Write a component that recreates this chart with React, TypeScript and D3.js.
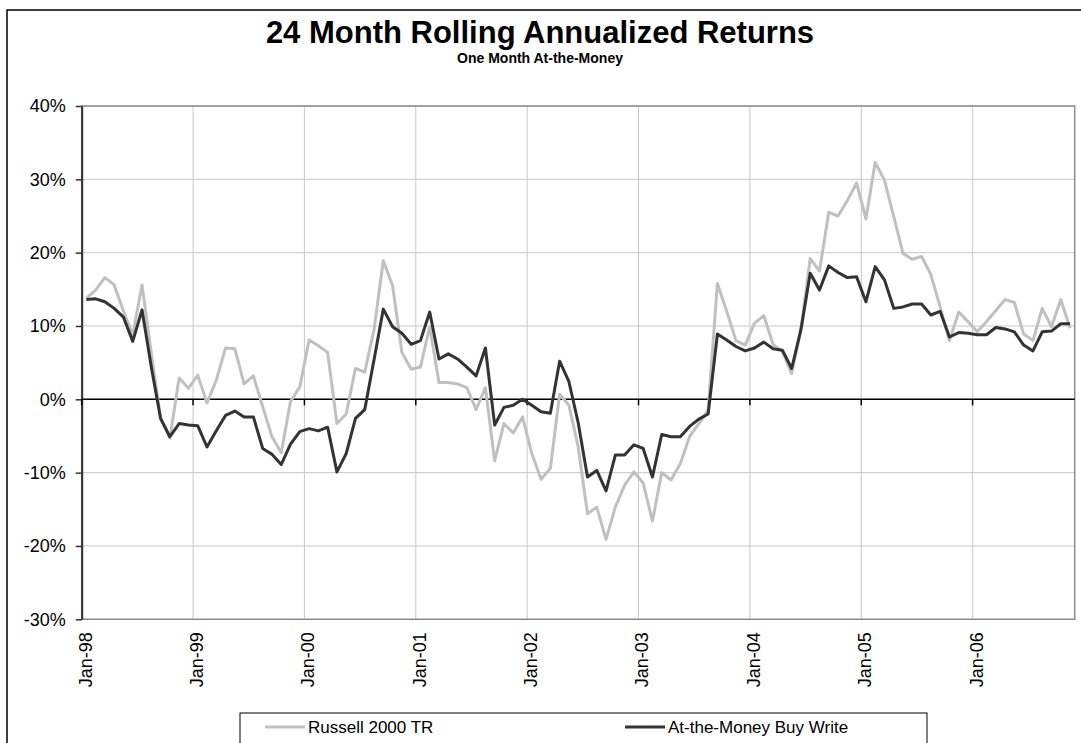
import * as React from 'react';
import * as d3 from 'd3';
import {Component} from 'react';

interface IChartProperties {
    margins: {
        top: number;
        bottom: number;
        left: number;
        right: number;
    }
    xMax: number;
    yMax: number;
}

const title = '24 Month Rolling Annualized Returns';
const subtitle = 'One Month At-the-Money';
const seriesNames = ['Russell 2000 TR', 'At-the-Money Buy Write'];
const seriesColors = ['#c0c0c0', '#333333'];

// monthly, Jan-98 .. Nov-06
const months = d3.timeMonth.range(new Date(1998, 0, 1), new Date(2006, 11, 1));

const russell = [
    13.8, 14.9, 16.6, 15.6, 12.0, 8.8, 15.6, 6.3, -2.6, -5.3, 2.9, 1.5,
    3.3, -0.5, 2.6, 7.0, 6.9, 2.1, 3.2, -1.0, -5.1, -7.3, -0.3, 1.7,
    8.1, 7.3, 6.4, -3.3, -2.0, 4.2, 3.7, 9.5, 18.9, 15.5, 6.4, 4.1,
    4.4, 9.9, 2.3, 2.3, 2.1, 1.6, -1.4, 1.6, -8.4, -3.3, -4.6, -2.4,
    -7.4, -10.9, -9.4, 0.7, -0.8, -6.5, -15.6, -14.7, -19.1, -14.7, -11.7, -9.9,
    -11.4, -16.6, -10.0, -11.0, -8.8, -5.1, -3.3, -1.5, 15.8, 12.0, 8.0, 7.4,
    10.4, 11.4, 7.5, 6.5, 3.5, 9.5, 19.2, 17.5, 25.5, 25.0, 27.1, 29.5,
    24.6, 32.3, 29.9, 24.9, 19.9, 19.1, 19.5, 17.0, 12.6, 8.0, 11.9, 10.6,
    9.2, 10.6, 12.1, 13.6, 13.2, 8.9, 8.0, 12.4, 9.9, 13.6, 9.7
];

const atmBuyWrite = [
    13.6, 13.7, 13.3, 12.4, 11.2, 7.9, 12.2, 4.4, -2.6, -5.1, -3.3, -3.5,
    -3.6, -6.5, -4.3, -2.2, -1.6, -2.4, -2.4, -6.7, -7.5, -8.9, -6.1, -4.4,
    -4.0, -4.3, -3.8, -9.9, -7.4, -2.6, -1.4, 5.4, 12.3, 9.9, 9.0, 7.5,
    8.0, 11.9, 5.5, 6.2, 5.5, 4.4, 3.2, 7.0, -3.5, -1.1, -0.8, 0.0,
    -0.8, -1.7, -1.9, 5.2, 2.4, -3.2, -10.6, -9.7, -12.5, -7.6, -7.6, -6.2,
    -6.7, -10.6, -4.8, -5.1, -5.1, -3.7, -2.7, -2.0, 8.9, 8.1, 7.2, 6.6,
    7.0, 7.8, 6.9, 6.7, 4.2, 9.5, 17.2, 14.9, 18.2, 17.3, 16.6, 16.7,
    13.3, 18.1, 16.3, 12.4, 12.6, 13.0, 13.0, 11.5, 12.0, 8.5, 9.1, 9.0,
    8.8, 8.8, 9.8, 9.6, 9.2, 7.4, 6.6, 9.2, 9.3, 10.3, 10.3
];

const yTicks = [-30, -20, -10, 0, 10, 20, 30, 40];

const FONT = '"Liberation Sans", Arial, sans-serif';

class Chart extends Component {
    private svgRef: any = React.createRef<SVGSVGElement>();
    private chartProperties: IChartProperties = {
        margins: {left: 81.7, right: 6.3, top: 106, bottom: 123.7},
        xMax: 1081,
        yMax: 743,
    };

    componentDidMount(): void {
        const svg = d3.select(this.svgRef.current);
        svg.selectAll('*').remove();
        const cp = this.chartProperties;
        const xScale = d3.scaleBand<number>()
            .domain(months.map((_, i) => i))
            .range([cp.margins.left, cp.xMax - cp.margins.right])
            .padding(0);
        const yScale = d3.scaleLinear()
            .domain([-30, 40])
            .range([cp.yMax - cp.margins.bottom, cp.margins.top]);

        appendFrame(svg, cp);
        appendTitles(svg);
        appendGrid(svg, xScale, yScale, cp);
        appendYAxis(svg, yScale, cp);
        appendXAxis(svg, xScale, yScale, cp);
        appendLine(svg, xScale, yScale, russell, seriesColors[0]);
        appendLine(svg, xScale, yScale, atmBuyWrite, seriesColors[1]);
        appendLegend(svg);
    }

    render() {
        return (
            <svg ref={this.svgRef} xmlns="http://www.w3.org/2000/svg" width="1081" height="743"
                 viewBox="0 0 1081 743" style={{position: 'absolute', left: 0, top: 0, background: '#fff'}}>
            </svg>
        );
    }
}

function appendFrame(svg: any, cp: IChartProperties) {
    svg.append('path')
        .attr('d', `M7,${cp.yMax} V10 H${cp.xMax}`)
        .attr('fill', 'none')
        .attr('stroke', '#000')
        .attr('stroke-width', 1.5);
}

function appendTitles(svg: any) {
    svg.append('text')
        .attr('x', 540).attr('y', 43)
        .attr('text-anchor', 'middle')
        .style('font-family', FONT).style('font-size', '31px').style('font-weight', 'bold')
        .text(title);
    svg.append('text')
        .attr('x', 540).attr('y', 63)
        .attr('text-anchor', 'middle')
        .style('font-family', FONT).style('font-size', '14px').style('font-weight', 'bold')
        .text(subtitle);
}

function appendGrid(svg: any, xScale: any, yScale: any, cp: IChartProperties) {
    const x0 = cp.margins.left;
    const x1 = cp.xMax - cp.margins.right;
    const g = svg.append('g');
    g.selectAll('line.h').data(yTicks).enter().append('line')
        .attr('x1', x0).attr('x2', x1)
        .attr('y1', (d: number) => yScale(d)).attr('y2', (d: number) => yScale(d))
        .attr('stroke', '#c8c8c8').attr('stroke-width', 1);
    const janIdx = months.map((_, i) => i).filter((i) => i % 12 === 0 && i > 0);
    g.selectAll('line.v').data(janIdx).enter().append('line')
        .attr('x1', (d: number) => xScale(d)).attr('x2', (d: number) => xScale(d))
        .attr('y1', yScale(40)).attr('y2', yScale(-30))
        .attr('stroke', '#c8c8c8').attr('stroke-width', 1);
    g.append('rect')
        .attr('x', x0).attr('y', yScale(40))
        .attr('width', x1 - x0).attr('height', yScale(-30) - yScale(40))
        .attr('fill', 'none').attr('stroke', '#8c8c8c').attr('stroke-width', 1.5);
}

function appendYAxis(svg: any, yScale: any, cp: IChartProperties) {
    const axisYSvg = svg.append('g').attr('transform', `translate(${cp.margins.left} 0)`);
    const axis = d3.axisLeft(yScale).tickValues(yTicks)
        .tickFormat((d: any) => `${d}%`)
        .tickSizeInner(6).tickSizeOuter(0).tickPadding(10);
    axisYSvg.call(axis);
    axisYSvg.select('.domain').attr('stroke', '#333').attr('stroke-width', 2);
    axisYSvg.selectAll('.tick line').attr('stroke', '#333').attr('stroke-width', 1.5);
    axisYSvg.selectAll('.tick text')
        .style('font-family', FONT).style('font-size', '18px').attr('fill', '#000');
}

function appendXAxis(svg: any, xScale: any, yScale: any, cp: IChartProperties) {
    const y0 = yScale(0);
    const janIdx = months.map((_, i) => i).filter((i) => i % 12 === 0);
    svg.append('line')
        .attr('x1', cp.margins.left).attr('x2', cp.xMax - cp.margins.right)
        .attr('y1', y0).attr('y2', y0)
        .attr('stroke', '#000').attr('stroke-width', 1.5);
    svg.selectAll('line.xtick').data(janIdx).enter().append('line')
        .attr('x1', (d: number) => xScale(d)).attr('x2', (d: number) => xScale(d))
        .attr('y1', y0).attr('y2', y0 + 6)
        .attr('stroke', '#000').attr('stroke-width', 1.5);
    const fmt = d3.timeFormat('%b-%y');
    const yLab = yScale(-30) + 13;
    svg.selectAll('text.xlab').data(janIdx).enter().append('text')
        .attr('transform', (d: number) => `translate(${xScale(d) + xScale.bandwidth() / 2 - 1} ${yLab}) rotate(-90)`)
        .attr('text-anchor', 'end')
        .attr('dy', '0.35em')
        .style('font-family', FONT).style('font-size', '18px')
        .text((d: number) => fmt(months[d]));
}

function appendLine(svg: any, xScale: any, yScale: any, data: number[], color: string) {
    const line = d3.line<number>()
        .x((_, i) => xScale(i) + xScale.bandwidth() / 2)
        .y((d) => yScale(d));
    svg.append('path')
        .datum(data)
        .attr('d', line)
        .attr('fill', 'none')
        .attr('stroke', color)
        .attr('stroke-width', 3)
        .attr('stroke-linejoin', 'round');
}

function appendLegend(svg: any) {
    const g = svg.append('g');
    g.append('rect')
        .attr('x', 240).attr('y', 713).attr('width', 687).attr('height', 60)
        .attr('fill', '#fff').attr('stroke', '#000').attr('stroke-width', 1);
    const items = [{x: 265}, {x: 625}];
    items.forEach((it, i) => {
        g.append('line')
            .attr('x1', it.x).attr('x2', it.x + 40)
            .attr('y1', 727).attr('y2', 727)
            .attr('stroke', seriesColors[i]).attr('stroke-width', 3);
        g.append('text')
            .attr('x', it.x + 43).attr('y', 733)
            .style('font-family', FONT).style('font-size', '17px')
            .text(seriesNames[i]);
    });
}

export default function App() {
    return <Chart/>;
}
